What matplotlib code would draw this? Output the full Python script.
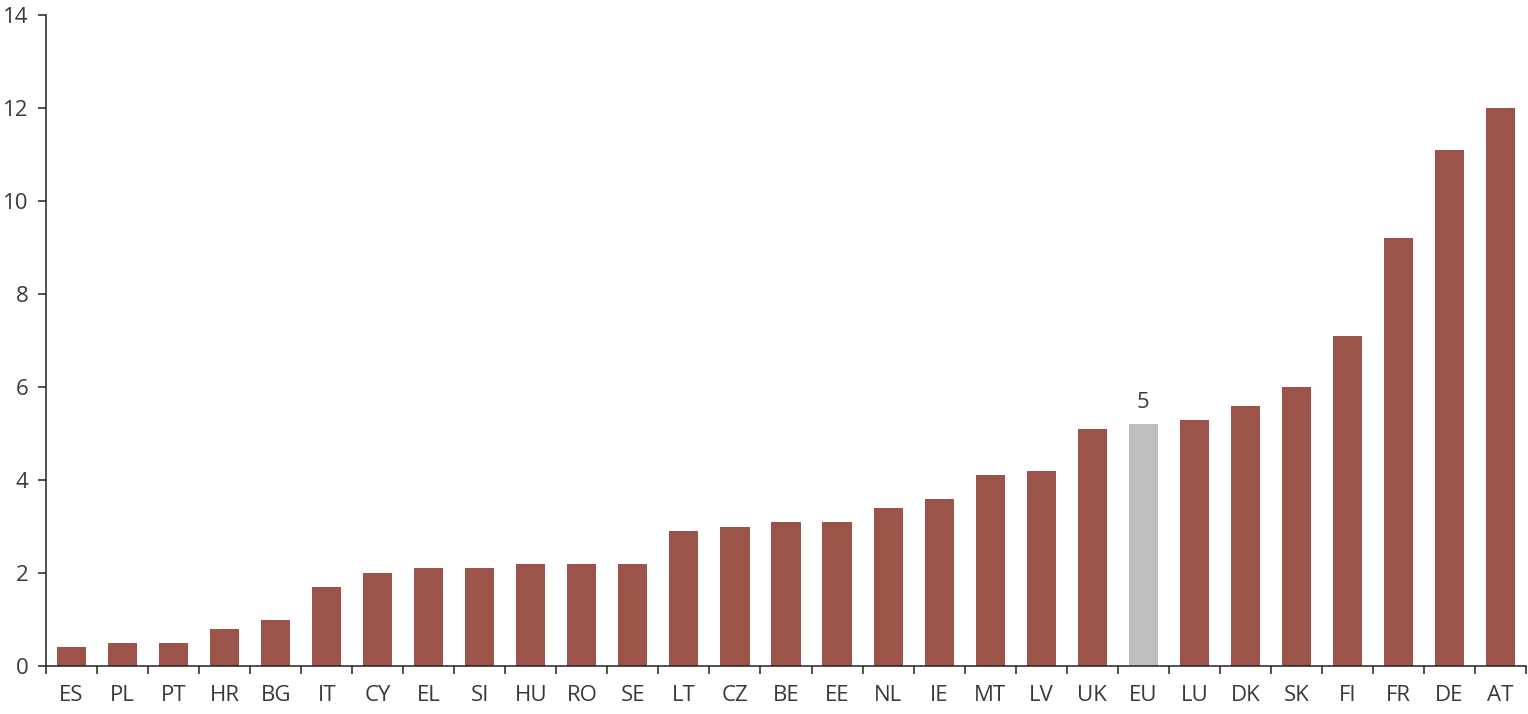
import matplotlib
matplotlib.use("Agg")
import matplotlib.pyplot as plt
import numpy as np

countries = ["ES", "PL", "PT", "HR", "BG", "IT", "CY", "EL", "SI", "HU", "RO", "SE",
             "LT", "CZ", "BE", "EE", "NL", "IE", "MT", "LV", "UK", "EU", "LU", "DK",
             "SK", "FI", "FR", "DE", "AT"]
values = [0.4, 0.5, 0.5, 0.8, 1.0, 1.7, 2.0, 2.1, 2.1, 2.2, 2.2, 2.2,
          2.9, 3.0, 3.1, 3.1, 3.4, 3.6, 4.1, 4.2, 5.1, 5.2, 5.3, 5.6,
          6.0, 7.1, 9.2, 11.1, 12.0]
highlight = "EU"
highlight_label = "5"

plt.rcParams["font.family"] = ["Open Sans", "DejaVu Sans"]
text_color = "#3a3a3a"

fig = plt.figure(figsize=(15.28, 7.14), dpi=100)
ax = fig.add_axes([46 / 1528, 48 / 714, 1480 / 1528, 651 / 714])

x = np.arange(len(countries))
colors = ["#bfbfbf" if c == highlight else "#9b534a" for c in countries]
ax.bar(x, values, width=0.57, color=colors)

i = countries.index(highlight)
ax.annotate(highlight_label, (x[i], values[i]), xytext=(0, 8), textcoords="offset points",
            ha="center", va="bottom", fontsize=16, color=text_color)

ax.set_xlim(-0.5, len(countries) - 0.5)
ax.set_ylim(0, 14)
ax.set_yticks(np.arange(0, 15, 2))
ax.set_xticks(x)
ax.set_xticklabels(countries)
ax.set_xticks(np.arange(-0.5, len(countries)), minor=True)
ax.tick_params(axis="x", which="major", length=0, pad=14, labelsize=16, labelcolor=text_color)
ax.tick_params(axis="x", which="minor", length=5.5, width=1.1, color="#222222", direction="out")
ax.tick_params(axis="y", length=5.5, width=1.1, pad=7, labelsize=16, labelcolor=text_color, color="#222222")

for side in ["top", "right"]:
    ax.spines[side].set_visible(False)
for side in ["left", "bottom"]:
    ax.spines[side].set_linewidth(1.1)
    ax.spines[side].set_color("#222222")

fig.savefig("out.png", dpi=100)
